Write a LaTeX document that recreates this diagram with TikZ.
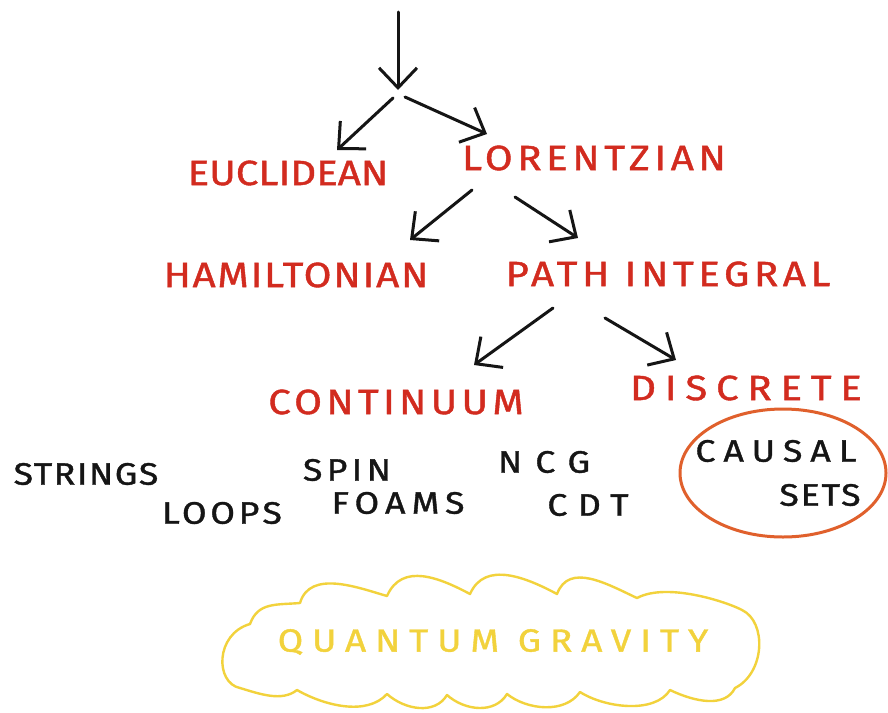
\documentclass[tikz,border=0pt]{standalone}
\usepackage{fontspec}
\newfontfamily\hand[FakeStretch=1.15,FakeBold=1.2]{Fira Sans}
\usetikzlibrary{arrows.meta,shapes.geometric}
\definecolor{redc}{HTML}{D22B1F}
\definecolor{inkc}{HTML}{151515}
\definecolor{orangec}{HTML}{E0602C}
\definecolor{yellowc}{HTML}{F2D23C}
\newcommand\redfont[1]{\hand\fontsize{35}{35}\selectfont\addfontfeature{LetterSpace=#1}}
\newcommand\inkfont[1]{\hand\fontsize{31}{31}\selectfont\addfontfeature{LetterSpace=#1}}
\newcommand\yelfont[1]{\hand\fontsize{32}{32}\selectfont\addfontfeature{LetterSpace=#1}}
\begin{document}
\begin{tikzpicture}[x=1pt,y=-1pt,
  redlab/.style={text=redc, inner sep=0pt},
  inklab/.style={text=inkc, inner sep=0pt},
  yellab/.style={text=yellowc, inner sep=0pt},
  arr/.style={draw=inkc, line width=3pt, line cap=round,
    -{Straight Barb[length=20pt,width=38pt,line width=3pt]}}]
\useasboundingbox (0,0) rectangle (888,712);
\fill[white] (0,0) rectangle (888,712);

% labels
\node[redlab, font=\redfont{0}]  (euc) at (288,173) {EUCLIDEAN};
\node[redlab, font=\redfont{13}] (lor) at (594,158) {LORENTZIAN};
\node[redlab, font=\redfont{5}]  (ham) at (296,275) {HAMILTONIAN};
\node[redlab, font=\redfont{13}] (pat) at (668,274) {PATH INTEGRAL};
\node[redlab, font=\redfont{12}] (con) at (396,402) {CONTINUUM};
\node[redlab, font=\redfont{25}] (dis) at (746,388) {DISCRETE};

\node[inklab, font=\inkfont{5}]  (str) at (86,474)  {STRINGS};
\node[inklab, font=\inkfont{12}] (loo) at (222,513) {LOOPS};
\node[inklab, font=\inkfont{14}] (spi) at (347,470) {SPIN};
\node[inklab, font=\inkfont{20}] (foa) at (398,503) {FOAMS};
\node[inklab, font=\inkfont{42}] (ncg) at (544,462) {NCG};
\node[inklab, font=\inkfont{34}] (cdt) at (588,505) {CDT};
\node[inklab, font=\inkfont{26}] (cau) at (776,451) {CAUSAL};
\node[inklab, font=\inkfont{6}]  (set) at (820,495) {SETS};

\node[ellipse, draw=orangec, line width=3pt, minimum width=206pt,
  minimum height=128pt, inner sep=0pt] (circ) at (783,473) {};

% cloud
\draw[yellowc, line width=2.4pt, line join=round]
  (250,624)
  .. controls +(8,-22) and +(-24,2) .. (300,603)
  .. controls +(10,-34) and +(-28,-8) .. (387,596)
  .. controls +(15,-34) and +(-30,-16) .. (470,594)
  .. controls +(15,-34) and +(-30,-16) .. (557,594)
  .. controls +(12,-32) and +(-30,-14) .. (637,598)
  .. controls +(30,-16) and +(-15,-8) .. (742,610)
  .. controls +(25,12) and +(30,-15) .. (735,688)
  .. controls +(-10,20) and +(25,12) .. (670,690)
  .. controls +(-15,24) and +(25,16) .. (580,692)
  .. controls +(-15,22) and +(20,16) .. (507,694)
  .. controls +(-12,20) and +(18,16) .. (447,695)
  .. controls +(-12,20) and +(18,16) .. (387,694)
  .. controls +(-20,22) and +(28,16) .. (297,690)
  .. controls +(-15,12) and +(20,6) .. (240,688)
  .. controls +(-25,-5) and +(-35,10) .. cycle;
\node[yellab, font=\yelfont{28}] (qg) at (493,642) {QUANTUM GRAVITY};

% arrow coordinates
\coordinate (top) at (398,12);
\coordinate (s1) at (398,90);
\coordinate (sa) at (393,98);
\coordinate (ea) at (337,150);
\coordinate (sb) at (405,97);
\coordinate (eb) at (487,134);
\coordinate (la) at (472,190);
\coordinate (lea) at (410,240);
\coordinate (lb) at (515,197);
\coordinate (leb) at (578,238);
\coordinate (pa) at (553,308);
\coordinate (pea) at (474,365);
\coordinate (pb) at (605,318);
\coordinate (peb) at (676,360);

\draw[arr] (top) -- (s1);
\draw[arr] (sa) -- (ea);
\draw[arr] (sb) -- (eb);
\draw[arr] (la) -- (lea);
\draw[arr] (lb) -- (leb);
\draw[arr] (pa) -- (pea);
\draw[arr] (pb) -- (peb);
\end{tikzpicture}
\end{document}
